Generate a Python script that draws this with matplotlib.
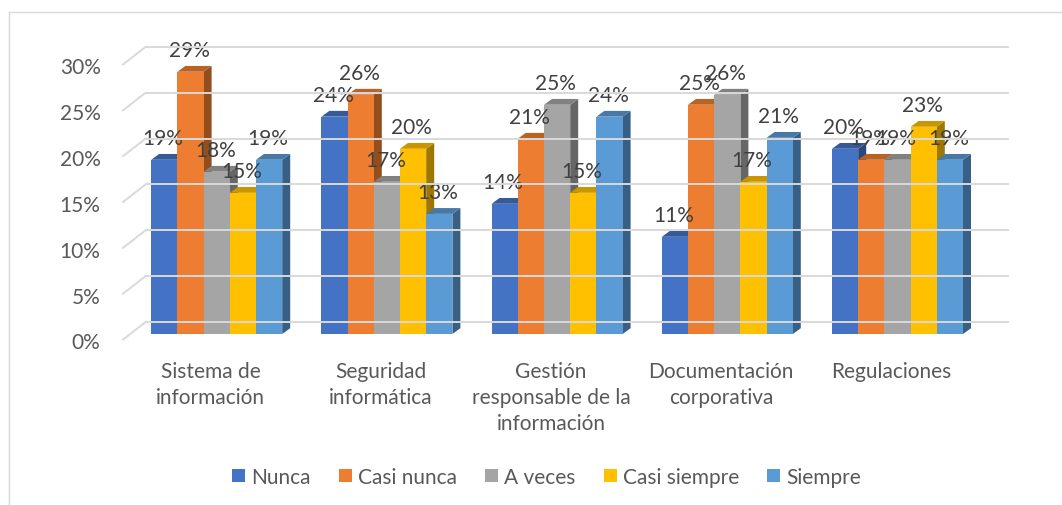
import numpy as np
import matplotlib
matplotlib.use("Agg")
import matplotlib.pyplot as plt
from matplotlib.patches import Polygon
from matplotlib.lines import Line2D
from matplotlib.transforms import ScaledTranslation

# ---------------- data ----------------
categories = ["Sistema de\ninformación", "Seguridad\ninformática",
              "Gestión\nresponsable de la\ninformación",
              "Documentación\ncorporativa", "Regulaciones"]
series_names = ["Nunca", "Casi nunca", "A veces", "Casi siempre", "Siempre"]
nunca = [19.0, 23.7, 14.2, 10.6, 20.2]
casi_nunca = [28.6, 26.1, 21.3, 25.0, 19.0]
a_veces = [17.7, 16.6, 25.0, 26.1, 19.0]
casi_siempre = [15.4, 20.2, 15.4, 16.6, 22.6]
siempre = [19.0, 13.1, 23.7, 21.4, 19.0]
series_values = [nunca, casi_nunca, a_veces, casi_siempre, siempre]
y_ticks = [0, 5, 10, 15, 20, 25, 30]

colors = ["#4472C4", "#ED7D31", "#A5A5A5", "#FFC000", "#5B9BD5"]

# ---------------- figure ----------------
plt.rcParams["font.family"] = ["Lato", "DejaVu Sans"]
W, H = 1062, 506
DPI = 100
fig = plt.figure(figsize=(W / DPI, H / DPI), dpi=DPI)
fig.patch.set_facecolor("white")

FS = 15.0  # points

ax_left_px, ax_right_px = 131.6, 982.6
ax_bottom_px, ax_top_px = 335.0, 335.0 - 9.17 * 30
ax = fig.add_axes([ax_left_px / W, 1 - ax_bottom_px / H,
                   (ax_right_px - ax_left_px) / W,
                   (ax_bottom_px - ax_top_px) / H])
ax.set_xlim(-0.5, 4.5)
ax.set_ylim(0, 30)
ax.patch.set_alpha(0)
for s in ax.spines.values():
    s.set_visible(False)

def px(x, y):
    return ScaledTranslation(x / DPI, y / DPI, fig.dpi_scale_trans)

fig.canvas.draw()
to_fig = fig.transFigure.inverted()

# gridlines on back wall + side wall diagonals
grid_c = "#D9D9D9"
for v in y_ticks:
    p0 = (ax.transData + px(14, 12)).transform((-0.5, v))
    p1 = (ax.transData + px(25, 12)).transform((4.5, v))
    f0, f1 = to_fig.transform(p0), to_fig.transform(p1)
    fig.add_artist(Line2D([f0[0], f1[0]], [f0[1], f1[1]],
                          transform=fig.transFigure, color=grid_c, lw=1.4, zorder=0.5))
    q0 = (ax.transData + px(-8.5, -5.5)).transform((-0.5, v))
    g0 = to_fig.transform(q0)
    fig.add_artist(Line2D([g0[0], f0[0]], [g0[1], f0[1]],
                          transform=fig.transFigure, color=grid_c, lw=1.4, zorder=0.5))

# bars with 3D faces
n = len(series_names)
bw = 26.2 / 170.2
ppx = (ax_right_px - ax_left_px) / 5.0   # px per x unit
ppy = (ax_bottom_px - ax_top_px) / 30.0  # px per y unit
dx = 8.0 / ppx
dy = 5.8 / ppy
x0 = np.arange(len(categories))

def shade(c, f):
    r, g, b = matplotlib.colors.to_rgb(c)
    return (r * f, g * f, b * f)

for gi in range(len(categories)):
    for si in range(n):
        xc = x0[gi] + (si - (n - 1) / 2) * bw
        v = series_values[si][gi]
        xl, xr = xc - bw / 2, xc + bw / 2
        z = 2 + si * 0.1
        side = Polygon([(xr, 0), (xr + dx, dy), (xr + dx, v + dy), (xr, v)],
                       closed=True, facecolor=shade(colors[si], 0.62),
                       edgecolor="none", zorder=z)
        top = Polygon([(xl, v), (xl + dx, v + dy), (xr + dx, v + dy), (xr, v)],
                      closed=True, facecolor=shade(colors[si], 0.78),
                      edgecolor="none", zorder=z + 0.01)
        ax.add_patch(side)
        ax.add_patch(top)

bar_handles = []
for si in range(n):
    xs = x0 + (si - (n - 1) / 2) * bw
    b = ax.bar(xs, series_values[si], width=bw, color=colors[si],
               label=series_names[si], zorder=2 + si * 0.1 + 0.02,
               linewidth=0)
    bar_handles.append(b)
    for xv, v in zip(xs, series_values[si]):
        ax.annotate(f"{round(v):d}%", (xv, v), xytext=(-1.5 * 0.72, 22 * 0.72),
                    textcoords="offset points", ha="center", va="center",
                    fontsize=FS, color="#404040", zorder=10)

# y tick labels
ax.set_yticks(y_ticks)
ax.set_yticklabels([f"{t}%" for t in y_ticks])
ax.tick_params(axis="y", length=0, pad=31 * 0.72, labelsize=FS, labelcolor="#595959")
for lab in ax.get_yticklabels():
    lab.set_transform(lab.get_transform() + px(0, -6.5))

# x tick labels
ax.set_xticks(x0)
ax.set_xticklabels(categories, linespacing=1.37)
ax.tick_params(axis="x", length=0, pad=27 * 0.72, labelsize=FS, labelcolor="#595959")
for lab in ax.get_xticklabels():
    lab.set_transform(lab.get_transform() + px(-6, 0))

# legend
leg = fig.legend(handles=bar_handles, labels=series_names, loc="center",
                 bbox_to_anchor=(546.5 / W, 1 - 477.7 / H), ncol=5, frameon=False,
                 fontsize=FS, labelcolor="#595959", handlelength=0.62,
                 handleheight=0.62, handletextpad=0.3, columnspacing=1.35)

# outer chart frame (only left/top visible)
fig.add_artist(Line2D([9 / W, 9 / W], [1 - 12.7 / H, 0.0], transform=fig.transFigure,
                      color="#D9D9D9", lw=1.0))
fig.add_artist(Line2D([9 / W, 1.0], [1 - 12.7 / H, 1 - 12.7 / H], transform=fig.transFigure,
                      color="#D9D9D9", lw=1.0))

fig.savefig("out.png", dpi=DPI)
